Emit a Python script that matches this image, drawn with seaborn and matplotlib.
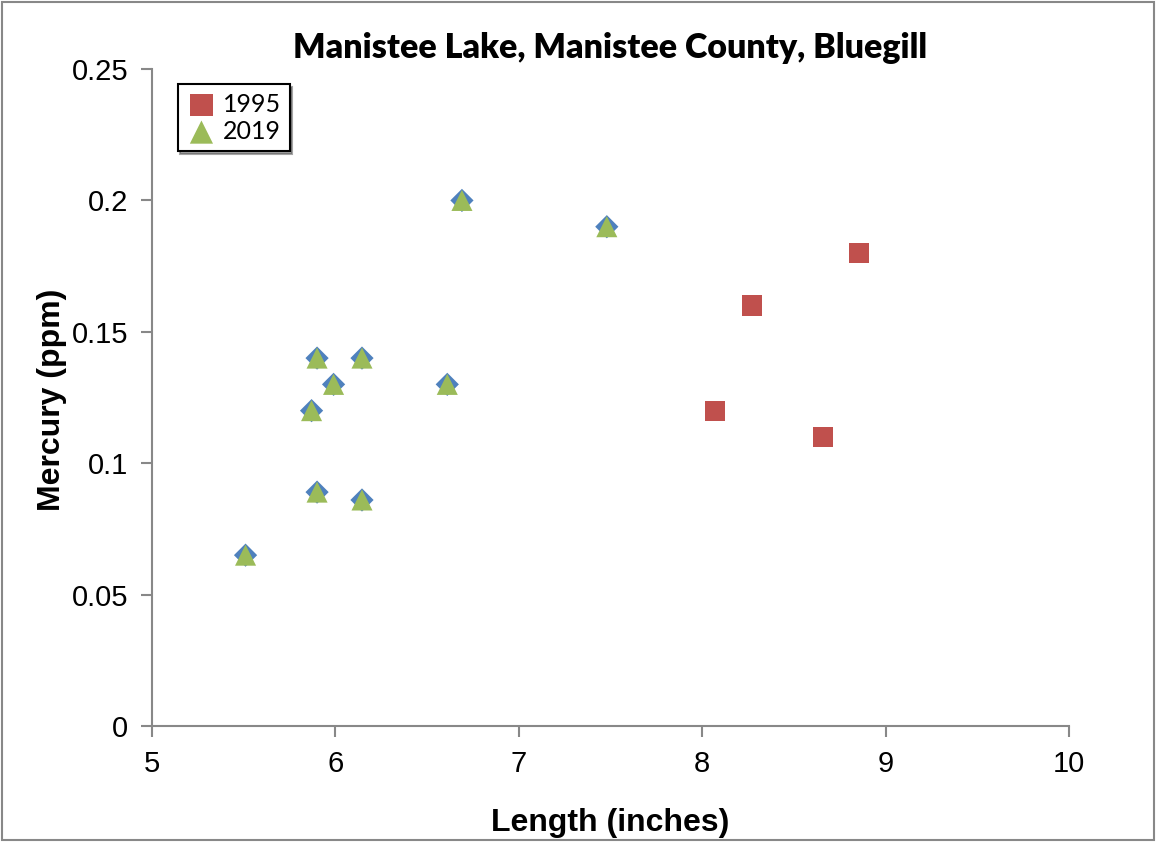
import matplotlib.pyplot as plt
import seaborn as sns
import pandas as pd
from matplotlib.patches import Rectangle

# data
length_1995 = [8.07, 8.27, 8.66, 8.855]
mercury_1995 = [0.12, 0.16, 0.11, 0.18]
length_2019 = [5.51, 5.87, 5.9, 5.9, 5.99, 6.145, 6.145, 6.61, 6.69, 7.48]
mercury_2019 = [0.065, 0.12, 0.14, 0.089, 0.13, 0.14, 0.086, 0.13, 0.2, 0.19]
x_ticks = [5, 6, 7, 8, 9, 10]
y_ticks = [0, 0.05, 0.1, 0.15, 0.2, 0.25]
y_tick_labels = ['0', '0.05', '0.1', '0.15', '0.2', '0.25']

df95 = pd.DataFrame({'length': length_1995, 'mercury': mercury_1995})
df19 = pd.DataFrame({'length': length_2019, 'mercury': mercury_2019})

sns.set_style('white')
plt.rcParams['font.family'] = ['Liberation Sans', 'DejaVu Sans']
plt.rcParams['text.color'] = 'black'
plt.rcParams['axes.labelcolor'] = 'black'
plt.rcParams['xtick.labelcolor'] = 'black'
plt.rcParams['ytick.labelcolor'] = 'black'

fig = plt.figure(figsize=(11.56, 8.42), dpi=100)
ax = fig.add_axes([0.1315, 0.1378, 0.7932, 0.7802])

# blue diamonds sit under the green triangles (no legend entry)
sns.scatterplot(data=df19, x='length', y='mercury', ax=ax, marker='D', s=140,
                color='#4F81BD', edgecolor='none', label='_nolegend_')
sns.scatterplot(data=df95, x='length', y='mercury', ax=ax, marker='s', s=210,
                color='#C0504D', edgecolor='none', label='1995')
sns.scatterplot(data=df19, x='length', y='mercury', ax=ax, marker='^', s=230,
                color='#9BBB59', edgecolor='none', label='2019')

ax.set_xlim(5, 10)
ax.set_ylim(0, 0.25)
ax.set_xticks(x_ticks)
ax.set_yticks(y_ticks)
ax.set_yticklabels(y_tick_labels)
ax.tick_params(axis='both', direction='out', length=8, width=1.5, color='#888888',
               labelsize=21, pad=9, left=True, bottom=True, labelcolor='black')

for side in ['top', 'right']:
    ax.spines[side].set_visible(False)
for side in ['left', 'bottom']:
    ax.spines[side].set_color('#888888')
    ax.spines[side].set_linewidth(1.5)

ax.set_xlabel('Length (inches)', fontsize=23, fontweight='bold', color='black')
ax.set_ylabel('Mercury (ppm)', fontsize=23, fontweight='bold', color='black')
ax.xaxis.set_label_coords(0.5, -0.125)
ax.yaxis.set_label_coords(-0.093, 0.496)
ax.set_title('Manistee Lake, Manistee County, Bluegill', fontsize=24.5, color='black',
             fontweight='heavy', family=['Lato', 'DejaVu Sans'], pad=8)

leg = ax.legend(loc='upper left', bbox_to_anchor=(0.028, 0.977), borderaxespad=0,
                frameon=True, fancybox=False, shadow=True, edgecolor='black',
                prop={'family': ['Lato', 'DejaVu Sans'], 'size': 18},
                handletextpad=0.25, borderpad=0.35, labelspacing=0.15, handlelength=1.2,
                markerscale=1.1)
leg.get_frame().set_linewidth(1.5)
for t in leg.get_texts():
    t.set_color('black')

fig.patches.append(Rectangle((0.002, 0.002), 0.996, 0.996, transform=fig.transFigure,
                             fill=False, edgecolor='#888888', linewidth=1.5))

fig.savefig('out.png', dpi=100)
